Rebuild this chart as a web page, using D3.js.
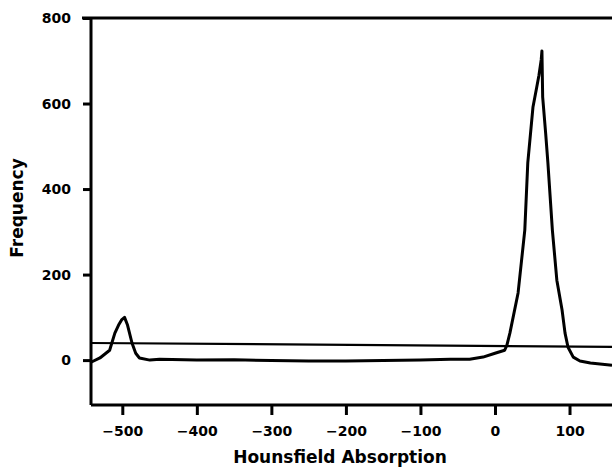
<!DOCTYPE html>
<html>
<head>
<meta charset="utf-8">
<script src="https://cdn.jsdelivr.net/npm/d3@7"></script>
<style>
  body { margin: 0; background: #fff; }
  text { font-family: "DejaVu Sans", sans-serif; font-weight: bold; fill: #000; }
</style>
</head>
<body>
<svg id="chart"></svg>
<script>
// data
var absorption = [-542, -530, -517, -510, -505, -501, -497, -493, -487, -482, -477, -463,
                  -450, -400, -350, -300, -250, -200, -150, -100, -60, -34, -16, 0,
                  13, 16, 20, 31, 40, 44, 51, 56, 59, 62, 63,
                  64, 68, 71, 77, 83, 90, 94, 98, 105, 114, 128, 157];
var frequency  = [-5, 5, 23, 63, 82, 94, 100, 82, 40, 16, 5, 0,
                  2, 0, 1, -1, -2, -2, -1, 0, 2, 2, 7, 16,
                  23, 35, 63, 157, 304, 461, 592, 638, 666, 702, 723,
                  615, 530, 461, 304, 187, 117, 63, 30, 7, -2, -7, -12];
var refLineX = [-542, 157];
var refLineY = [40, 31];
var xTicks = [-500, -400, -300, -200, -100, 0, 100];
var yTicks = [0, 200, 400, 600, 800];

var width = 612, height = 468;
var svg = d3.select("#chart").attr("width", width).attr("height", height);

var x = d3.scaleLinear().domain([-542, 157]).range([91, 612]);
var y = d3.scaleLinear().domain([-105, 800]).range([405, 18]);

// frame: top and bottom borders, left axis
svg.append("line").attr("x1", 82).attr("x2", width).attr("y1", y(800)).attr("y2", y(800))
  .attr("stroke", "#000").attr("stroke-width", 3);
svg.append("line").attr("x1", 91).attr("x2", width).attr("y1", y(-105)).attr("y2", y(-105))
  .attr("stroke", "#000").attr("stroke-width", 3);

var yAxis = svg.append("g").attr("transform", "translate(91,0)")
  .call(d3.axisLeft(y).tickValues(yTicks).tickSize(8).tickFormat(d3.format("d")));
yAxis.select(".domain").attr("d", "M0," + y(800) + "V" + y(-105)).attr("stroke-width", 3);
yAxis.selectAll(".tick line").attr("stroke-width", 3);
yAxis.selectAll(".tick text").attr("x", -20).attr("font-size", 14)
  .style("font-family", "DejaVu Sans").style("font-weight", "bold");

var xAxis = svg.append("g").attr("transform", "translate(0,405)")
  .call(d3.axisBottom(x).tickValues(xTicks).tickSize(10).tickFormat(function(d){ return d < 0 ? "\u2212" + Math.abs(d) : d; }));
xAxis.select(".domain").remove();
xAxis.selectAll(".tick line").attr("stroke-width", 3);
xAxis.selectAll(".tick text").attr("y", 21).attr("font-size", 14)
  .style("font-family", "DejaVu Sans").style("font-weight", "bold");

// reference line
svg.append("path")
  .datum(d3.zip(refLineX, refLineY))
  .attr("fill", "none").attr("stroke", "#000").attr("stroke-width", 2.2)
  .attr("d", d3.line().x(function(d){ return x(d[0]); }).y(function(d){ return y(d[1]); }));

// histogram curve
svg.append("path")
  .datum(d3.zip(absorption, frequency))
  .attr("fill", "none").attr("stroke", "#000").attr("stroke-width", 3)
  .attr("stroke-linejoin", "round")
  .attr("d", d3.line().x(function(d){ return x(d[0]); }).y(function(d){ return y(d[1]); }));

// titles
svg.append("text").attr("x", 340).attr("y", 463).attr("text-anchor", "middle")
  .attr("font-size", 17).text("Hounsfield Absorption");
svg.append("text").attr("transform", "translate(23,208) rotate(-90)").attr("text-anchor", "middle")
  .attr("font-size", 17).text("Frequency");
</script>
</body>
</html>
